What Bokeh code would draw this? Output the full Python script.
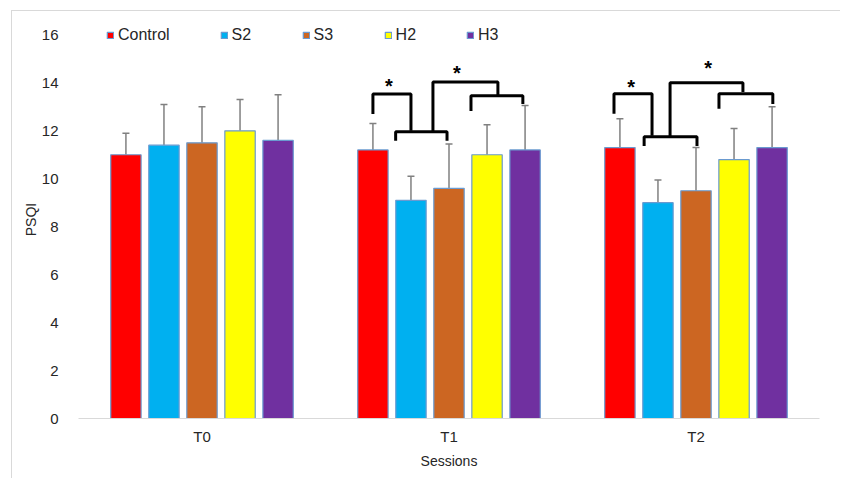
from bokeh.plotting import figure
from bokeh.models import (ColumnDataSource, Range1d, FixedTicker, Whisker, TeeHead,
                          Legend, LegendItem)
from bokeh.transform import dodge
from bokeh.core.properties import value
from bokeh.embed import file_html
from bokeh.resources import INLINE

sessions = ["T0", "T1", "T2"]
groups = ["Control", "S2", "S3", "H2", "H3"]
colors = ["#FF0000", "#00B0F0", "#CC6622", "#FFFF00", "#7030A0"]

control = [11.0, 11.2, 11.3]
s2 = [11.4, 9.1, 9.0]
s3 = [11.5, 9.6, 9.5]
h2 = [12.0, 11.0, 10.8]
h3 = [11.6, 11.2, 11.3]
means = [control, s2, s3, h2, h3]

control_sd = [0.9, 1.1, 1.2]
s2_sd = [1.7, 1.0, 0.95]
s3_sd = [1.5, 1.85, 1.8]
h2_sd = [1.3, 1.25, 1.3]
h3_sd = [1.9, 1.85, 1.7]
sds = [control_sd, s2_sd, s3_sd, h2_sd, h3_sd]

# significance bracket annotations: (session index, [(offset, y), ...])
brackets = [
    (1, [(-0.308, 12.7), (-0.308, 13.53), (-0.154, 13.53), (-0.154, 12.0)]),
    (1, [(-0.216, 11.58), (-0.216, 11.96), (-0.008, 11.96), (-0.008, 11.58)]),
    (1, [(-0.065, 11.96), (-0.065, 14.03), (0.198, 14.03), (0.198, 13.46)]),
    (1, [(0.089, 12.83), (0.089, 13.46), (0.299, 13.46), (0.299, 13.12)]),
    (2, [(-0.332, 12.71), (-0.332, 13.54), (-0.178, 13.54), (-0.178, 11.79)]),
    (2, [(-0.21, 11.37), (-0.21, 11.75), (0.004, 11.75), (0.004, 11.37)]),
    (2, [(-0.105, 11.75), (-0.105, 14.0), (0.19, 14.0), (0.19, 13.62)]),
    (2, [(0.093, 12.92), (0.093, 13.54), (0.311, 13.54), (0.311, 13.12)]),
]
stars = [(1, -0.243, 13.87), (1, 0.032, 14.42), (2, -0.263, 13.83), (2, 0.049, 14.62)]

FONT = "Liberation Sans"
TXT = "#262626"

p = figure(width=829, height=468, output_backend="svg", toolbar_location=None,
           x_range=Range1d(-0.5, 2.5), y_range=Range1d(0, 16.6),
           min_border_left=66, min_border_right=22, min_border_top=9,
           min_border_bottom=61)
p.margin = (10, 0, 0, 11)
p.styles = {"border-left": "1px solid #d9d9d9", "border-top": "1px solid #d9d9d9"}
p.outline_line_color = None
p.xgrid.grid_line_color = None
p.ygrid.grid_line_color = None

offsets = [-0.308, -0.154, 0.0, 0.154, 0.308]
items = []
for name, col, m, sd, off in zip(groups, colors, means, sds, offsets):
    src = ColumnDataSource(dict(x=[0, 1, 2], top=m,
                                up=[a + b for a, b in zip(m, sd)]))
    r = p.vbar(x=dodge("x", off), top="top", bottom=0, width=0.123, source=src,
               fill_color=col, line_color="#6A9AD0", line_width=1.2)
    items.append(LegendItem(label=name, renderers=[r]))
    w = Whisker(base=dodge("x", off), upper="up", lower="top", source=src,
                line_color="#808080", line_width=1.5,
                upper_head=TeeHead(size=7, line_color="#808080", line_width=1.5),
                lower_head=None)
    p.add_layout(w)

xs, ys = [], []
for g, pts in brackets:
    xs.append([g + o for o, _ in pts])
    ys.append([y for _, y in pts])
p.multi_line(xs=xs, ys=ys, line_color="black", line_width=3)

p.text(x=[g + o for g, o, _ in stars], y=[y for _, _, y in stars], text=["*"] * len(stars),
       text_font=value(FONT), text_font_size="20px", text_font_style="bold",
       text_align="center", text_baseline="middle", text_color="black")

leg = Legend(items=items, orientation="horizontal", location=(28, 374),
             glyph_width=8, glyph_height=8, label_standoff=4, spacing=50,
             padding=0, margin=0, border_line_color=None, background_fill_alpha=0,
             label_text_font=FONT, label_text_font_size="16px", label_text_color=TXT)
p.add_layout(leg, "center")

p.xaxis.ticker = FixedTicker(ticks=[0, 1, 2])
p.xaxis.major_label_overrides = {0: "T0", 1: "T1", 2: "T2"}
p.xaxis.axis_line_color = "#d9d9d9"
p.xaxis.major_tick_line_color = None
p.xaxis.minor_tick_line_color = None
p.xaxis.major_label_standoff = 3
p.xaxis.axis_label = "Sessions"
p.xaxis.axis_label_standoff = 5

p.yaxis.ticker = FixedTicker(ticks=list(range(0, 17, 2)))
p.yaxis.axis_line_color = None
p.yaxis.major_tick_line_color = None
p.yaxis.minor_tick_line_color = None
p.yaxis.major_label_standoff = 14
p.yaxis.axis_label = "PSQI"
p.yaxis.axis_label_standoff = 0

for ax in (p.xaxis[0], p.yaxis[0]):
    ax.major_label_text_font = FONT
    ax.major_label_text_font_size = "15px"
    ax.major_label_text_color = TXT
    ax.axis_label_text_font = FONT
    ax.axis_label_text_font_size = "14px"
    ax.axis_label_text_font_style = "normal"
    ax.axis_label_text_color = TXT

open("out.html", "w").write(file_html(p, INLINE))
